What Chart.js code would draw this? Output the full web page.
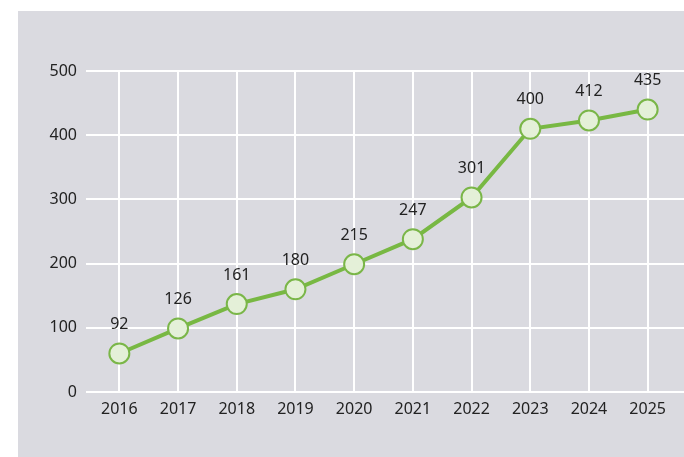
<!DOCTYPE html>
<html>
<head>
<meta charset="utf-8">
<script src="https://cdn.jsdelivr.net/npm/chart.js@4"></script>
<style>
  html, body { margin: 0; padding: 0; background: #ffffff; }
  body { width: 684px; height: 457px; position: relative; overflow: hidden; }
  #panel { position: absolute; left: 18px; top: 11px; width: 666px; height: 446px; background: #dadae0; }
  #c { display: block; }
</style>
</head>
<body>
<div id="panel"><canvas id="c" width="666" height="446"></canvas></div>
<script>
const years = ['2016','2017','2018','2019','2020','2021','2022','2023','2024','2025'];
const plottedValues = [60, 99, 137, 160, 199, 238, 303, 410, 423, 440];
const labelTexts = ['92','126','161','180','215','247','301','400','412','435'];
const yTicks = [0, 100, 200, 300, 400, 500];

const FONT = '"Noto Sans", "Open Sans", sans-serif';

const gridExtend = {
  id: 'gridExtend',
  beforeDatasetsDraw(chart) {
    const ctx = chart.ctx;
    const y = chart.scales.y;
    ctx.save();
    ctx.strokeStyle = '#ffffff';
    ctx.lineWidth = 2;
    yTicks.forEach(v => {
      const py = Math.round(y.getPixelForValue(v));
      ctx.beginPath();
      ctx.moveTo(chart.chartArea.right, py);
      ctx.lineTo(chart.width, py);
      ctx.stroke();
    });
    ctx.restore();
  }
};

const pointLabels = {
  id: 'pointLabels',
  afterDatasetsDraw(chart) {
    const ctx = chart.ctx;
    const meta = chart.getDatasetMeta(0);
    ctx.save();
    ctx.font = '16px ' + FONT;
    ctx.fillStyle = '#222222';
    ctx.textAlign = 'center';
    ctx.textBaseline = 'middle';
    meta.data.forEach((pt, i) => {
      ctx.fillText(labelTexts[i], pt.x, pt.y - 29);
    });
    ctx.restore();
  }
};

new Chart(document.getElementById('c'), {
  type: 'line',
  data: {
    labels: years,
    datasets: [{
      data: plottedValues,
      borderColor: '#78b843',
      borderWidth: 4,
      pointRadius: 10,
      pointHoverRadius: 10,
      pointBackgroundColor: '#e4f0d8',
      pointBorderColor: '#7ab648',
      pointBorderWidth: 2,
      tension: 0
    }]
  },
  options: {
    responsive: false,
    animation: false,
    events: [],
    layout: { autoPadding: false, padding: { top: 60, right: 7, bottom: 35, left: 0 } },
    plugins: { legend: { display: false }, tooltip: { enabled: false } },
    scales: {
      x: {
        offset: true,
        grid: { color: '#ffffff', lineWidth: 2, drawTicks: false, offset: false },
        border: { display: false },
        ticks: { color: '#222222', font: { family: FONT, size: 16 }, padding: 8 },
        afterFit(scale) { scale.height = 30; }
      },
      y: {
        min: 0, max: 500,
        afterBuildTicks(scale) { scale.ticks = yTicks.map(v => ({ value: v })); },
        grid: { color: '#ffffff', lineWidth: 2, tickLength: 4 },
        border: { display: false },
        ticks: { color: '#222222', font: { family: FONT, size: 16 }, padding: 9 },
        afterFit(scale) { scale.width = 72; }
      }
    }
  },
  plugins: [gridExtend, pointLabels]
});
</script>
</body>
</html>
